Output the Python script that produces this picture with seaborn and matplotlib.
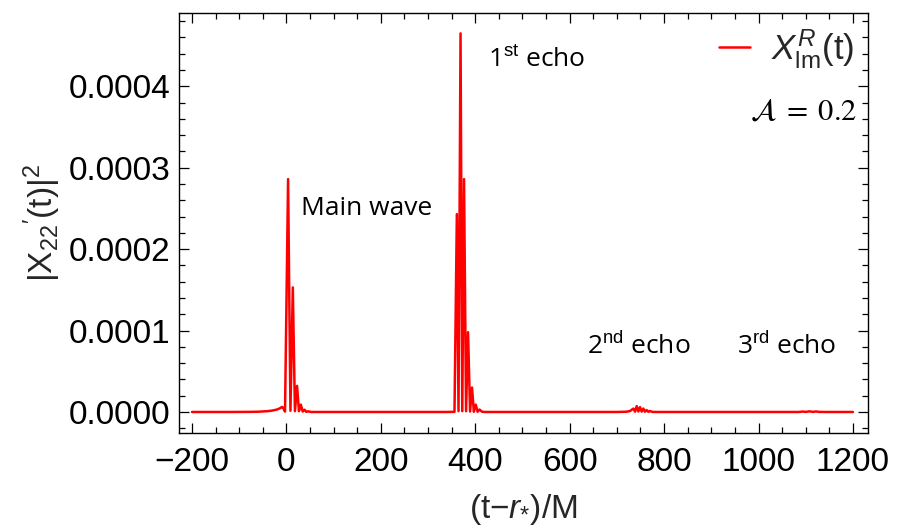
import numpy as np
import pandas as pd
import matplotlib
matplotlib.use("Agg")
import matplotlib.pyplot as plt
import seaborn as sns
from matplotlib.ticker import MultipleLocator

# ---- data (t, |X'_22|^2) ----
t_vals = [-200, -120, -80, -60, -40, -30, -20, -14, -9, -6, -3,
          3.5, 8.5, 13.5, 18, 22.5, 26.5, 30.5, 34.5, 38.5, 42, 46, 52,
          200, 340, 356,
          361, 364.5, 368.8, 372.5, 376.2, 380.5, 384.7, 389, 393.1, 397, 401, 405, 409, 414, 420,
          600, 700, 720, 728, 735, 738.5, 742, 745.5, 749, 752.5, 756, 759.5, 763, 766.5, 770, 775, 785,
          1000, 1085, 1094, 1101, 1108, 1115, 1122, 1129, 1140, 1200]
y_vals = [0, 0, 0.0000001, 0.0000003, 0.0000010, 0.0000017, 0.0000030, 0.0000045, 0.0000062, 0.0000040, 0.0000005,
          0.000286, 0.0000015, 0.000153, 0.000001, 0.000032, 0.000001, 0.000009, 0.0000005, 0.0000028, 0.0000002, 0.0000008, 0,
          0, 0, 0.0000002,
          0.000243, 0.000001, 0.000465, 0.000001, 0.000286, 0.000001, 0.000098, 0.0000005, 0.000030, 0.0000003, 0.0000090, 0.0000002, 0.0000030, 0.0000004, 0,
          0, 0, 0.0000003, 0.0000012, 0.0000042, 0.0000004, 0.0000072, 0.0000005, 0.0000060, 0.0000004, 0.0000042, 0.0000003, 0.0000024, 0.0000002, 0.0000012, 0.0000001, 0,
          0, 0, 0.0000005, 0.0000001, 0.0000008, 0.0000001, 0.0000006, 0.0000001, 0, 0]

x_ticks = [-200, 0, 200, 400, 600, 800, 1000, 1200]
y_ticks = [0.0000, 0.0001, 0.0002, 0.0003, 0.0004]
y_tick_labels = ["0.0000", "0.0001", "0.0002", "0.0003", "0.0004"]

annotations = [("Main wave", 31, 0.000250), ("1$^{\\mathrm{st}}$ echo", 427, 0.000432),
               ("2$^{\\mathrm{nd}}$ echo", 637, 0.000081), ("3$^{\\mathrm{rd}}$ echo", 955, 0.000081)]

df = pd.DataFrame({"t": t_vals, "y": y_vals})

sns.set_theme(style="ticks")
plt.rcParams["font.family"] = ["Liberation Sans", "DejaVu Sans"]
plt.rcParams["mathtext.fontset"] = "custom"
plt.rcParams["mathtext.rm"] = "Liberation Sans"
plt.rcParams["mathtext.it"] = "Liberation Sans:italic"
plt.rcParams["mathtext.bf"] = "Liberation Sans:bold"

fig = plt.figure(figsize=(8.97, 5.31), dpi=100)
ax = fig.add_axes([0.1996, 0.1846, 0.9677 - 0.1996, 0.9755 - 0.1846])

sns.lineplot(data=df, x="t", y="y", ax=ax, color="#ff0000", linewidth=1.8,
             estimator=None, sort=False, label=r"$X^{R}_{\mathrm{lm}}$(t)")

ax.set_xlim(-227.5, 1232)
ax.set_ylim(-0.0000258, 0.00049)
ax.set_xticks(x_ticks)
ax.set_xticklabels(["\u2212200" if v < 0 else str(v) for v in x_ticks])
ax.set_yticks(y_ticks)
ax.set_yticklabels(y_tick_labels)
ax.xaxis.set_minor_locator(MultipleLocator(50))
ax.yaxis.set_minor_locator(MultipleLocator(0.00002))
ax.tick_params(which="both", direction="in", top=True, right=True, colors="black",
               labelsize=24, width=0.9)
ax.tick_params(which="major", length=7)
ax.tick_params(axis="x", which="major", pad=10)
ax.tick_params(axis="y", which="major", pad=6)
ax.tick_params(which="minor", length=4)
for s in ax.spines.values():
    s.set_color("black")
    s.set_linewidth(1.0)

ax.set_xlabel(r"(t$-$$\mathit{r}_{*}$)/M", fontsize=24, labelpad=10)
ax.set_ylabel(r"$\mathregular{|X_{22}{'}(t)|^2}$", fontsize=24, labelpad=4)

leg = ax.legend(loc="upper right", frameon=False, fontsize=25, handlelength=0.9,
                handletextpad=0.6, borderaxespad=0.0)

ax.text(0.985, 0.765, r"$\mathcal{A}\;=\;0.2$", transform=ax.transAxes, ha="right",
        va="center", fontsize=22, math_fontfamily="stix", color="black")

for txt, x, y in annotations:
    ax.text(x, y, txt, fontsize=19, family=["Open Sans", "DejaVu Sans"],
            ha="left", va="center", color="black")

fig.savefig("out.png", dpi=100)
